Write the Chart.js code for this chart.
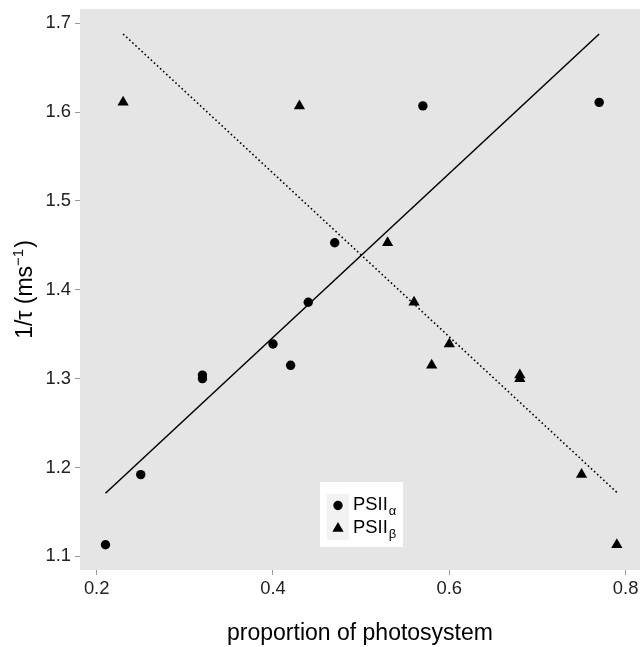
<!DOCTYPE html>
<html>
<head>
<meta charset="utf-8">
<title>1/tau vs proportion of photosystem</title>
<script src="https://cdn.jsdelivr.net/npm/chart.js@4/dist/chart.umd.min.js"></script>
<style>
  html, body { margin: 0; padding: 0; background: #fff; }
  #wrap { width: 640px; height: 647px; }
</style>
</head>
<body>
<div id="wrap"><canvas id="chart" width="640" height="647"></canvas></div>
<script>
// measured rates for each photosystem form
const alphaX = [0.21, 0.25, 0.32, 0.32, 0.40, 0.42, 0.44, 0.47, 0.57, 0.77];
const alphaY = [1.113, 1.192, 1.304, 1.300, 1.339, 1.315, 1.386, 1.453, 1.607, 1.611];
const betaX = [0.79, 0.75, 0.68, 0.68, 0.60, 0.58, 0.56, 0.53, 0.43, 0.23];
const betaY = [1.113, 1.192, 1.304, 1.300, 1.339, 1.315, 1.386, 1.453, 1.607, 1.611];

// end points of the fitted lines
const fitAlphaX = [0.21, 0.77];
const fitAlphaY = [1.171, 1.688];
const fitBetaX = [0.23, 0.79];
const fitBetaY = [1.688, 1.172];

const xTicks = [0.2, 0.4, 0.6, 0.8];
const yTicks = [1.1, 1.2, 1.3, 1.4, 1.5, 1.6, 1.7];

const seriesNames = ["PSII", "PSII"];
const seriesSubs = ["α", "β"];

const FONT = "'Liberation Sans', Arial, Helvetica, sans-serif";

const toPoints = (xs, ys) => xs.map((x, i) => ({ x: x, y: ys[i] }));

// grey panel behind the data
const panelBackground = {
    id: "panelBackground",
    beforeDraw(chart) {
        const { ctx, chartArea } = chart;
        ctx.save();
        ctx.fillStyle = "#e5e5e5";
        ctx.fillRect(chartArea.left, chartArea.top, chartArea.right - chartArea.left, chartArea.bottom - chartArea.top);
        ctx.restore();
    }
};

// axis titles, with the superscript on the y title
const axisTitles = {
    id: "axisTitles",
    afterDraw(chart) {
        const { ctx, chartArea } = chart;
        ctx.save();
        ctx.fillStyle = "#000";
        ctx.textBaseline = "alphabetic";

        ctx.font = "23px " + FONT;
        ctx.textAlign = "center";
        ctx.fillText("proportion of photosystem", (chartArea.left + chartArea.right) / 2, 640);

        // y title: 1/τ (ms^-1)
        const main = "1/τ (ms";
        const sup = "−1";
        const close = ")";
        ctx.font = "23px " + FONT;
        const wMain = ctx.measureText(main).width;
        const wClose = ctx.measureText(close).width;
        ctx.font = "15px " + FONT;
        const wSup = ctx.measureText(sup).width;
        const total = wMain + wSup + 1 + wClose;

        ctx.translate(32, (chartArea.top + chartArea.bottom) / 2);
        ctx.rotate(-Math.PI / 2);
        ctx.textAlign = "left";
        let x = -total / 2;
        ctx.font = "23px " + FONT;
        ctx.fillText(main, x, 0);
        x += wMain;
        ctx.font = "15px " + FONT;
        ctx.fillText(sup, x, -9);
        x += wSup + 1;
        ctx.font = "23px " + FONT;
        ctx.fillText(close, x, 0);
        ctx.restore();
    }
};

// legend inside the panel
const insetLegend = {
    id: "insetLegend",
    afterDraw(chart) {
        const { ctx } = chart;
        const left = 320, top = 482, width = 83, height = 65;
        ctx.save();
        ctx.fillStyle = "#fff";
        ctx.fillRect(left, top, width, height);

        const keyX = 327, keyW = 22, keyH = 23;
        const rowTops = [494, 517];
        rowTops.forEach((rt, i) => {
            ctx.fillStyle = "#f2f2f2";
            ctx.fillRect(keyX, rt, keyW, keyH);

            const cx = keyX + keyW / 2;
            const cy = rt + keyH / 2;
            ctx.fillStyle = "#000";
            ctx.beginPath();
            if (i === 0) {
                ctx.arc(cx, cy, 4.7, 0, Math.PI * 2);
            } else {
                const r = 6.5;
                ctx.moveTo(cx, cy - r);
                ctx.lineTo(cx + r * Math.sin(Math.PI / 3), cy + r / 2);
                ctx.lineTo(cx - r * Math.sin(Math.PI / 3), cy + r / 2);
                ctx.closePath();
            }
            ctx.fill();

            ctx.textAlign = "left";
            ctx.textBaseline = "alphabetic";
            ctx.font = "18.4px " + FONT;
            const base = rt + 16;
            ctx.fillText(seriesNames[i], 353, base);
            const w = ctx.measureText(seriesNames[i]).width;
            ctx.font = "13px " + FONT;
            ctx.fillText(seriesSubs[i], 353 + w + 1, base + 5);
        });
        ctx.restore();
    }
};

const tickFont = { family: FONT, size: 18.4 };

new Chart(document.getElementById("chart"), {
    type: "scatter",
    data: {
        datasets: [
            {
                label: "PSIIα",
                data: toPoints(alphaX, alphaY),
                pointStyle: "circle",
                pointRadius: 4.7,
                pointBackgroundColor: "#000",
                pointBorderWidth: 0
            },
            {
                label: "PSIIβ",
                data: toPoints(betaX, betaY),
                pointStyle: "triangle",
                pointRadius: 6.5,
                pointBackgroundColor: "#000",
                pointBorderWidth: 0
            },
            {
                label: "fit α",
                data: toPoints(fitAlphaX, fitAlphaY),
                showLine: true,
                pointRadius: 0,
                borderColor: "#000",
                borderWidth: 1.5
            },
            {
                label: "fit β",
                data: toPoints(fitBetaX, fitBetaY),
                showLine: true,
                pointRadius: 0,
                borderColor: "#000",
                borderWidth: 1.6,
                borderDash: [1.6, 2.6]
            }
        ]
    },
    options: {
        responsive: false,
        animation: false,
        devicePixelRatio: 1,
        layout: { autoPadding: false, padding: { top: 9, right: 0, bottom: 0, left: 0 } },
        plugins: {
            legend: { display: false },
            tooltip: { enabled: false }
        },
        scales: {
            x: {
                type: "linear",
                min: 0.1811,
                max: 0.8163,
                afterBuildTicks: (scale) => { scale.ticks = xTicks.map(v => ({ value: v })); },
                afterFit: (scale) => {
                    scale.height = 77;
                    scale.paddingLeft = 0;
                    scale.paddingRight = 0;
                },
                border: { display: false },
                grid: { drawOnChartArea: false, drawTicks: true, tickLength: 5, color: "#999", tickColor: "#999" },
                ticks: {
                    font: tickFont,
                    color: "#222",
                    padding: 3,
                    maxRotation: 0,
                    callback: (v) => v.toFixed(1)
                }
            },
            y: {
                type: "linear",
                min: 1.0846,
                max: 1.7161,
                afterBuildTicks: (scale) => { scale.ticks = yTicks.map(v => ({ value: v })); },
                afterFit: (scale) => {
                    scale.width = 80;
                    scale.paddingTop = 0;
                    scale.paddingBottom = 0;
                },
                border: { display: false },
                grid: { drawOnChartArea: false, drawTicks: true, tickLength: 5, color: "#999", tickColor: "#999" },
                ticks: {
                    font: tickFont,
                    color: "#222",
                    padding: 4,
                    callback: (v) => v.toFixed(1)
                }
            }
        }
    },
    plugins: [panelBackground, axisTitles, insetLegend]
});
</script>
</body>
</html>
